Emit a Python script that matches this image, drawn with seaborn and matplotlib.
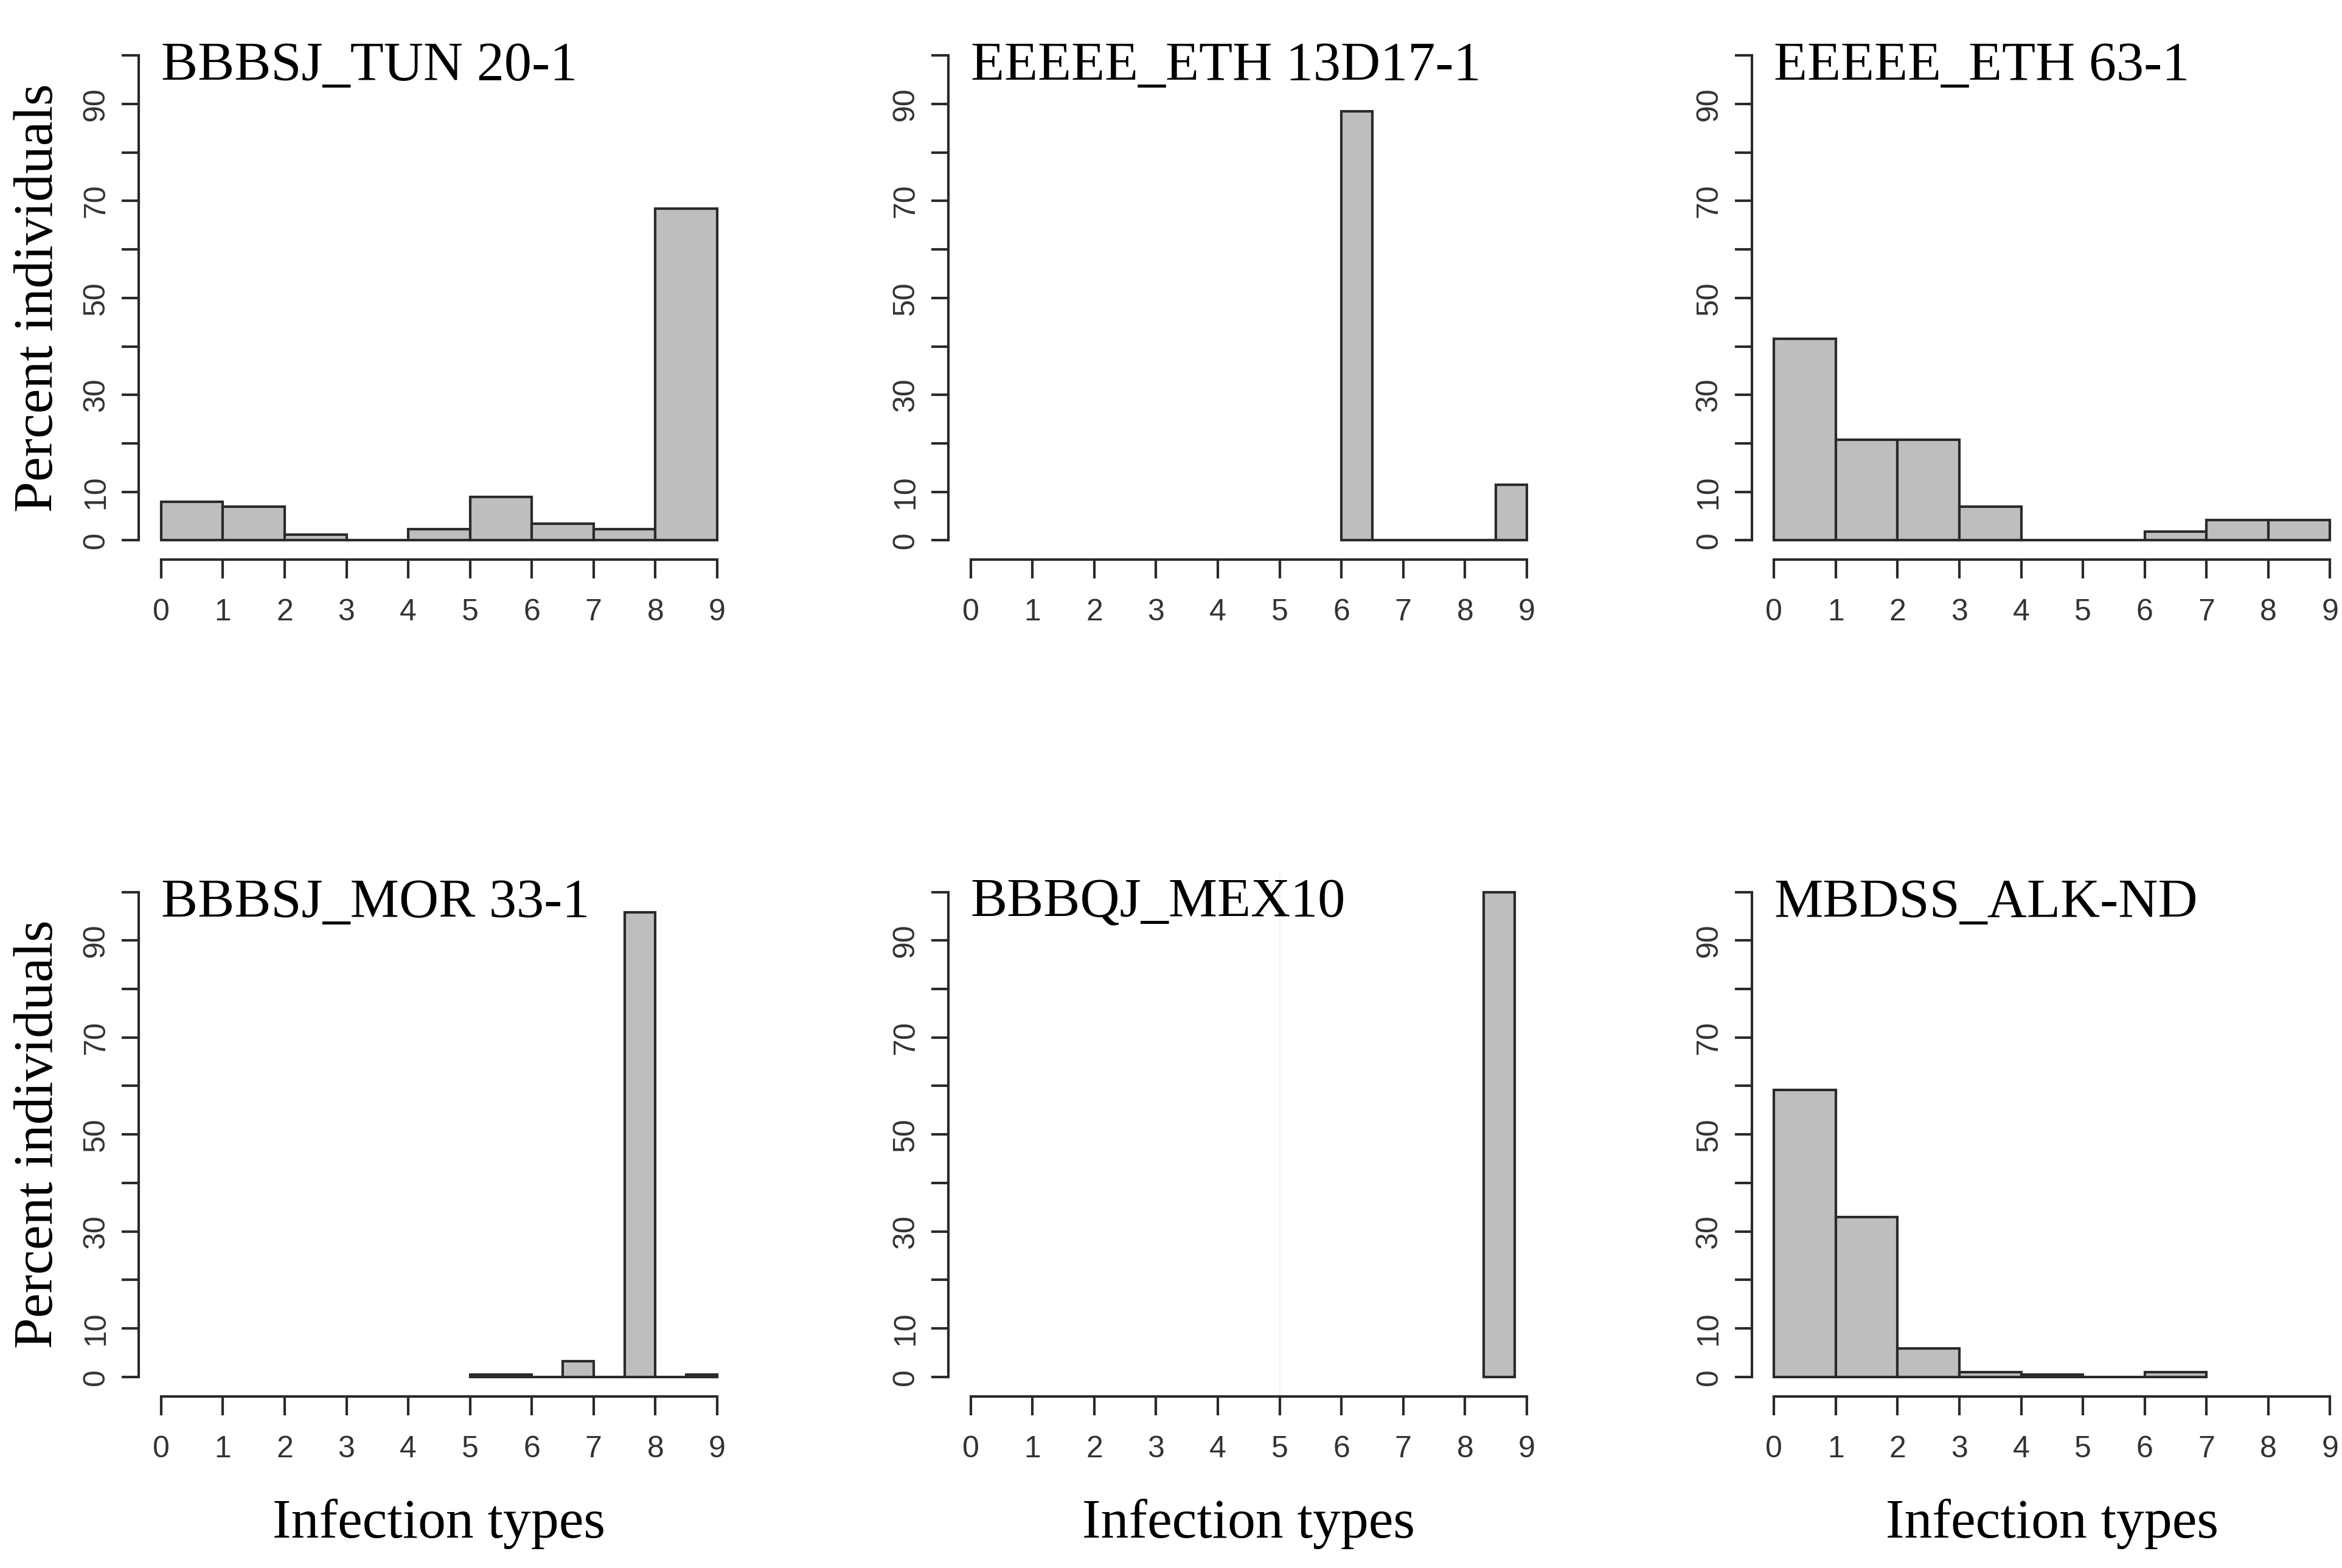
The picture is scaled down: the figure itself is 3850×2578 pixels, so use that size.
import numpy as np
import pandas as pd
import matplotlib
matplotlib.use("Agg")
import matplotlib.pyplot as plt
import seaborn as sns

# ---- data ----
titles = ["BBBSJ_TUN 20-1", "EEEEE_ETH 13D17-1", "EEEEE_ETH 63-1",
          "BBBSJ_MOR 33-1", "BBBQJ_MEX10", "MBDSS_ALK-ND"]

edges_tun = [0, 1, 2, 3, 4, 5, 6, 7, 8, 9]
pct_tun = [7.9, 6.9, 1.2, 0.0, 2.3, 9.0, 3.5, 2.3, 68.4]

edges_eth13 = [6, 6.5, 7, 7.5, 8, 8.5, 9]
pct_eth13 = [88.5, 0.0, 0.0, 0.0, 0.0, 11.5]

edges_eth63 = [0, 1, 2, 3, 4, 5, 6, 7, 8, 9]
pct_eth63 = [41.6, 20.8, 20.8, 7.0, 0.0, 0.0, 1.8, 4.2, 4.2]

edges_mor = [5, 5.5, 6, 6.5, 7, 7.5, 8, 8.5, 9]
pct_mor = [0.5, 0.5, 0.0, 3.2, 0.0, 95.8, 0.0, 0.5]

edges_mex = [8.3, 8.8]
pct_mex = [100.0]

edges_alk = [0, 1, 2, 3, 4, 5, 6, 7]
pct_alk = [59.2, 33.0, 5.9, 1.0, 0.5, 0.0, 1.0]

panels = [(edges_tun, pct_tun), (edges_eth13, pct_eth13), (edges_eth63, pct_eth63),
          (edges_mor, pct_mor), (edges_mex, pct_mex), (edges_alk, pct_alk)]

x_ticks = list(range(0, 10))
y_ticks = list(range(0, 101, 10))
y_tick_labels = ["0", "10", "", "30", "", "50", "", "70", "", "90", ""]

xlabel = "Infection types"
ylabel = "Percent individuals"

# ---- style ----
sns.set_theme(style="ticks")
plt.rcParams["font.family"] = ["Liberation Serif", "DejaVu Serif"]
plt.rcParams["text.color"] = "black"
plt.rcParams["axes.labelcolor"] = "black"

fig = plt.figure(figsize=(38.5, 25.78), dpi=100)

lefts = [0.0593, 0.405, 0.748]
bottoms = [0.643, 0.1095]
w, h = 0.2564, 0.334

serif = ["Liberation Serif", "DejaVu Serif"]
sans = ["Liberation Sans", "DejaVu Sans"]
line_col = "#2a2a2a"

for i, (edges, pct) in enumerate(panels):
    r, c = divmod(i, 3)
    ax = fig.add_axes([lefts[c], bottoms[r], w, h])
    centers = [(a + b) / 2 for a, b in zip(edges[:-1], edges[1:])]
    df = pd.DataFrame({"x": centers, "w": pct})
    sns.histplot(data=df, x="x", weights="w", bins=list(edges), ax=ax,
                 color="#bebebe", edgecolor=line_col, linewidth=3.0,
                 alpha=1.0, stat="count")
    if i == 4:
        ax.axvline(5, color="#f2f2f2", lw=1.5, zorder=0)
    ax.set_xlim(-0.36, 9.36)
    ax.set_ylim(-4, 104)
    sns.despine(ax=ax)
    ax.spines["left"].set_bounds(0, 100)
    ax.spines["bottom"].set_bounds(0, 9)
    for s in ("left", "bottom"):
        ax.spines[s].set_linewidth(3.0)
        ax.spines[s].set_color(line_col)
    ax.set_xticks(x_ticks)
    ax.set_xticklabels([str(t) for t in x_ticks], family=sans, fontsize=36,
                       color="#333333")
    ax.set_yticks(y_ticks)
    ax.set_yticklabels(y_tick_labels, rotation=90, va="center", family=sans,
                       fontsize=36, color="#333333")
    ax.tick_params(axis="x", direction="out", length=22, width=3.0,
                   color=line_col, pad=24)
    ax.tick_params(axis="y", direction="out", length=20, width=3.0,
                   color=line_col, pad=14)
    ax.set_title(titles[i], family=serif, fontsize=65, loc="left",
                 x=0.037, y=0.915, pad=0, va="baseline", color="black")
    if c == 0:
        ax.set_ylabel(ylabel, family=serif, fontsize=66, labelpad=22)
    else:
        ax.set_ylabel("")
    if r == 1:
        ax.set_xlabel(xlabel, family=serif, fontsize=66, labelpad=42)
    else:
        ax.set_xlabel("")
    ax.grid(False)

fig.savefig("out.png", dpi=100, facecolor="white")
